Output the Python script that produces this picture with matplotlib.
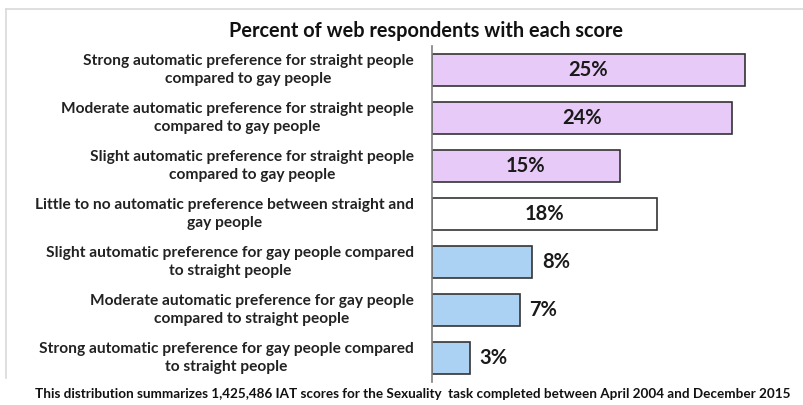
import matplotlib
matplotlib.use("Agg")
import matplotlib.pyplot as plt
from matplotlib.lines import Line2D

categories = [
    "Strong automatic preference for straight people\ncompared to gay people",
    "Moderate automatic preference for straight people\ncompared to gay people",
    "Slight automatic preference for straight people\ncompared to gay people",
    "Little to no automatic preference between straight and\ngay people",
    "Slight automatic preference for gay people compared\nto straight people",
    "Moderate automatic preference for gay people\ncompared to straight people",
    "Strong automatic preference for gay people compared\nto straight people",
]
values = [25, 24, 15, 18, 8, 7, 3]
value_labels = ["25%", "24%", "15%", "18%", "8%", "7%", "3%"]
groups = ["straight", "straight", "straight", "none", "gay", "gay", "gay"]
title = "Percent of web respondents with each score"
footer = ("This distribution summarizes 1,425,486 IAT scores for the Sexuality  task "
          "completed between April 2004 and December 2015")

colors = {"straight": "#E7CAF7", "none": "#FFFFFF", "gay": "#ABD2F2"}

plt.rcParams['font.family'] = ['Lato', 'DejaVu Sans']

W, H = 804, 405
fig = plt.figure(figsize=(W / 100, H / 100), dpi=100)

# light frame (top and left)
fig.add_artist(Line2D([6 / W, 1.0], [1 - 9 / H, 1 - 9 / H], color="#d9d9d9", lw=1.2))
fig.add_artist(Line2D([6 / W, 6 / W], [1 - 9 / H, 1 - 378 / H], color="#d9d9d9", lw=1.2))

ax_left, ax_right = 432, 795
ax_top, ax_bottom = 46, 382
ax = fig.add_axes([ax_left / W, 1 - ax_bottom / H, (ax_right - ax_left) / W, (ax_bottom - ax_top) / H])
ax.set_xlim(0, 29)
ax.set_ylim(len(values) - 0.5, -0.5)

y = list(range(len(values)))
ax.barh(y, values, height=0.67, color=[colors[g] for g in groups],
        edgecolor="#333333", linewidth=1.2, zorder=2)

for i, (v, lab, g) in enumerate(zip(values, value_labels, groups)):
    if g == "gay":
        ax.annotate(lab, xy=(v, i), xytext=(7, 0), textcoords="offset points",
                    ha="left", va="center", fontsize=14.5, fontweight="bold", color="#1a1a1a")
    else:
        ax.text(v / 2, i, lab, ha="center", va="center", fontsize=14.5,
                fontweight="bold", color="#1a1a1a")
    ax.annotate(categories[i], xy=(0, i), xytext=(-13, 0), textcoords="offset points",
                ha="right", va="center", multialignment="center", fontsize=11.2,
                fontweight="bold", color="#222222", linespacing=1.38, annotation_clip=False)

for s in ["top", "right", "bottom"]:
    ax.spines[s].set_visible(False)
ax.spines["left"].set_color("#808080")
ax.spines["left"].set_linewidth(1.2)
ax.set_xticks([])
ax.set_yticks([])

fig.text(426 / W, 1 - 31 / H, title, ha="center", va="center", fontsize=14.3,
         fontweight="bold", color="#111111")
fig.text(413 / W, 1 - 394 / H, footer, ha="center", va="center", fontsize=9.7,
         fontweight="bold", color="#111111")

fig.savefig("out.png", dpi=100, facecolor="white")
